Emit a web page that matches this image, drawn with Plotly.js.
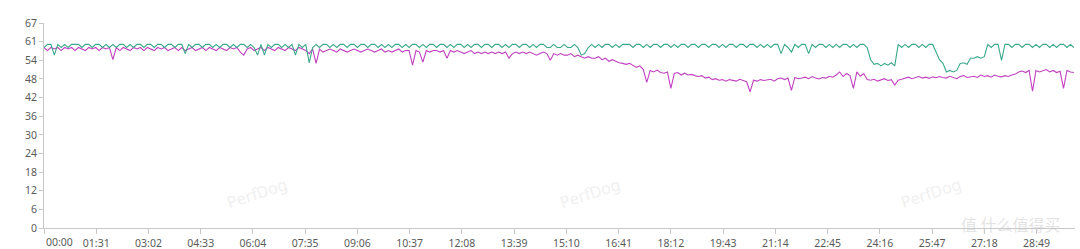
<!DOCTYPE html>
<html>
<head>
<meta charset="utf-8">
<script src="https://cdn.plot.ly/plotly-3.0.1.min.js"></script>
<style>html,body{margin:0;padding:0;background:#fff;}#chart{width:1080px;height:249px;}</style>
</head>
<body>
<div id="chart"></div>
<script>
// sampling step of the series (seconds)
const SAMPLE_STEP_S = 6;

// green series (approx. FPS), one value per 6 s
const greenValues = [
59,60,60,56.5,60,59,60,59,60,60,
60,59,60,60,59,60,60,59,60,59,
60,59,60,60,59,60,59,60,60,59,
60,60,59,60,60,59,60,60,59,60,
60,57,60,59,60,60,59,60,60,59,
60,59,60,60,59,60,59,60,60,59,
60,59,56.5,60,56.5,60,59,60,60,59,
60,59,60,56.5,60,59,60,54,59,60,
59,60,60,59,60,59,60,60,59,60,
60,59,60,60,59,60,60,59,60,59,
60,59,60,60,59,60,59,60,60,59,
60,59,60,60,59,60,60,59,60,59,
60,60,59,60,59,60,60,59,60,60,
59,60,60,59,60,59,60,60,59,60,
60,59,60,59,60,60,59,59,60,59,
59,60,59,59,60,59,56.5,57,59,60,
59,60,59,60,60,59,60,59,60,60,
60,59,60,60,59,60,59,60,60,59,
60,60,59,60,59,60,60,59,60,60,
59,60,60,59,60,60,59,60,59,60,
60,59,60,60,59,60,60,59,60,59,
60,59,60,60,57,60,59,57.5,60,59,
60,60,57,60,59,60,60,59,60,59,
60,59,60,60,59,60,59,60,60,59,
55,53.5,53.8,53,53.8,53.2,54,53,60,59,
60,59,60,60,59,60,59,60,60,57.5,
55,53.8,51,51.5,51,51.5,53.8,54,53.5,55.5,
55.5,56,55.5,56,60,59,60,60,54.8,60,
60,59,60,60,59,60,60,59,60,59,
60,60,59,60,59,60,60,59,60,59
];

// magenta series, one value per 6 s
const magentaValues = [
59,58,59,58.5,59,58,59,58.5,59,58,
59,58.5,58,59,58.5,59,58,59,58.5,59,
55,59,58,59,58.5,58,59,58.5,59,58,
59,58.5,58,59,58.5,59,58,58.5,59,58,
59,58,58.5,59,58,58.5,59,58,59,58.5,
58,59,58.5,58,59,58.5,59,57.5,56.5,58.5,
59,58,58.5,59,58,59,58.5,58,59,58.5,
58,59,58.5,58,59,58.5,58,57,58.5,53.8,
58.5,57.5,58,58.5,58,57.5,58.5,58,57.5,58,
58.5,58,57.5,58,58.5,58,57.5,58,58.5,57.5,
58,57.5,58,58.5,57.5,58,58,53.2,58,57.5,
54.2,58,57.5,58,58,57.5,58,55.5,58,57.5,
58,57.5,57,57.5,58,57,57.5,57,57.5,57,
57.5,57,57.5,57,57.5,55.5,57,57.5,57,57.5,
57,57.5,57,56.5,57,57.5,57,54.8,57,56.5,
57,56.5,56.5,57,56,56.5,56,55.5,56,55.5,
55.5,56,55,55.5,54.5,55,54.5,54,53.8,53.5,
53.8,53,52.5,53,51.8,47.6,51.5,51,51.6,50.8,
50.6,51,45.6,50.5,50.8,50,50.6,50,50.2,49.8,
49.5,49.8,49,49.3,48.5,48.8,48.3,48.5,48,48.5,
48.3,48,48.6,48.2,47.8,44.5,48.3,48,48.5,48.2,
48.3,48.6,48,48.8,49,48.5,49,45,49.2,48.8,
49,49.3,48.8,49.5,49,48.7,49.2,49,49.6,49.3,
50,51,49.5,50.5,49.8,45.6,51,49.6,50.5,48.5,
48.3,48.6,48,48.4,48.8,48.2,48.5,46.7,48.3,48.6,
49,49.3,48.8,49.2,49.5,49,49.3,48.9,49.4,49.1,
49.5,49.2,49,49.6,49.3,48.8,49.5,49.8,49.2,49.5,
49.6,49.2,50,49.5,49.8,49.3,50,49.6,49.4,49.8,
49.5,50,50.3,51,51.3,50.8,51.5,44.7,51.5,51,
51.3,51.8,51,51.5,50.8,51.2,45.6,51.5,51,50.8
];

// x tick positions (seconds) and labels
const xTickSeconds = [0,91,182,273,364,455,546,637,728,819,910,1001,1092,1183,1274,1365,1456,1547,1638,1729];
const xTickLabels = ["00:00","01:31","03:02","04:33","06:04","07:35","09:06","10:37","12:08","13:39","15:10","16:41","18:12","19:43","21:14","22:45","24:16","25:47","27:18","28:49"];
const xMaxSeconds = 1796;

// y ticks
const yMax = 67;
const yTickValues = [0,6.09,12.18,18.27,24.36,30.45,36.55,42.64,48.73,54.82,60.91,67];
const yTickLabels = ["0","6","12","18","24","30","36","42","48","54","61","67"];

const watermarkText = "PerfDog";
const watermarkX = [0.207, 0.530, 0.860];
const siteMark = "值 什么值得买";

const timesG = greenValues.map((_, i) => i * SAMPLE_STEP_S);
const timesM = magentaValues.map((_, i) => i * SAMPLE_STEP_S);

const font = "'Noto Sans', 'Open Sans', sans-serif";
const tickFont = {family: font, size: 10.5, color: '#5a5a5a'};

const traces = [
  {x: timesM, y: magentaValues, type: 'scatter', mode: 'lines',
   line: {color: '#c040c0', width: 1.1}, hoverinfo: 'skip'},
  {x: timesG, y: greenValues, type: 'scatter', mode: 'lines',
   line: {color: '#3aa88a', width: 1.1}, hoverinfo: 'skip'}
];

const annotations = watermarkX.map(px => ({
  xref: 'paper', yref: 'paper', x: px, y: 0.17, xanchor: 'center', yanchor: 'middle',
  text: watermarkText, showarrow: false, textangle: -18,
  font: {family: font, size: 16, color: '#f0f0f0'}
}));
annotations.push({
  xref: 'paper', yref: 'paper', x: 0, y: 0, yshift: -14, xanchor: 'left', yanchor: 'middle',
  text: xTickLabels[0], showarrow: false, font: tickFont
});
annotations.push({
  xref: 'paper', yref: 'paper', x: 0.938, y: 0.02, xanchor: 'center', yanchor: 'middle',
  text: siteMark, showarrow: false,
  font: {family: "'Noto Sans CJK SC', sans-serif", size: 16, color: 'rgba(200,200,200,0.5)'}
});

const layout = {
  width: 1080, height: 249,
  margin: {l: 44, r: 5, t: 23, b: 21},
  paper_bgcolor: '#fff', plot_bgcolor: '#fff',
  showlegend: false,
  font: {family: font, size: 11, color: '#555'},
  xaxis: {
    range: [0, xMaxSeconds], showgrid: false, zeroline: false,
    showline: true, linecolor: '#c8c8c8', linewidth: 1,
    ticks: 'outside', ticklen: 5, tickcolor: '#c8c8c8',
    tickvals: xTickSeconds,
    ticktext: xTickLabels.map((t, i) => i === 0 ? '' : t),
    tickfont: tickFont
  },
  yaxis: {
    range: [0, yMax], showgrid: false, zeroline: false,
    showline: true, linecolor: '#c8c8c8', linewidth: 1,
    ticks: 'outside', ticklen: 4, tickcolor: '#c8c8c8',
    tickvals: yTickValues, ticktext: yTickLabels,
    tickfont: tickFont
  },
  annotations: annotations
};

Plotly.newPlot('chart', traces, layout, {staticPlot: true, displayModeBar: false});
</script>
</body>
</html>
